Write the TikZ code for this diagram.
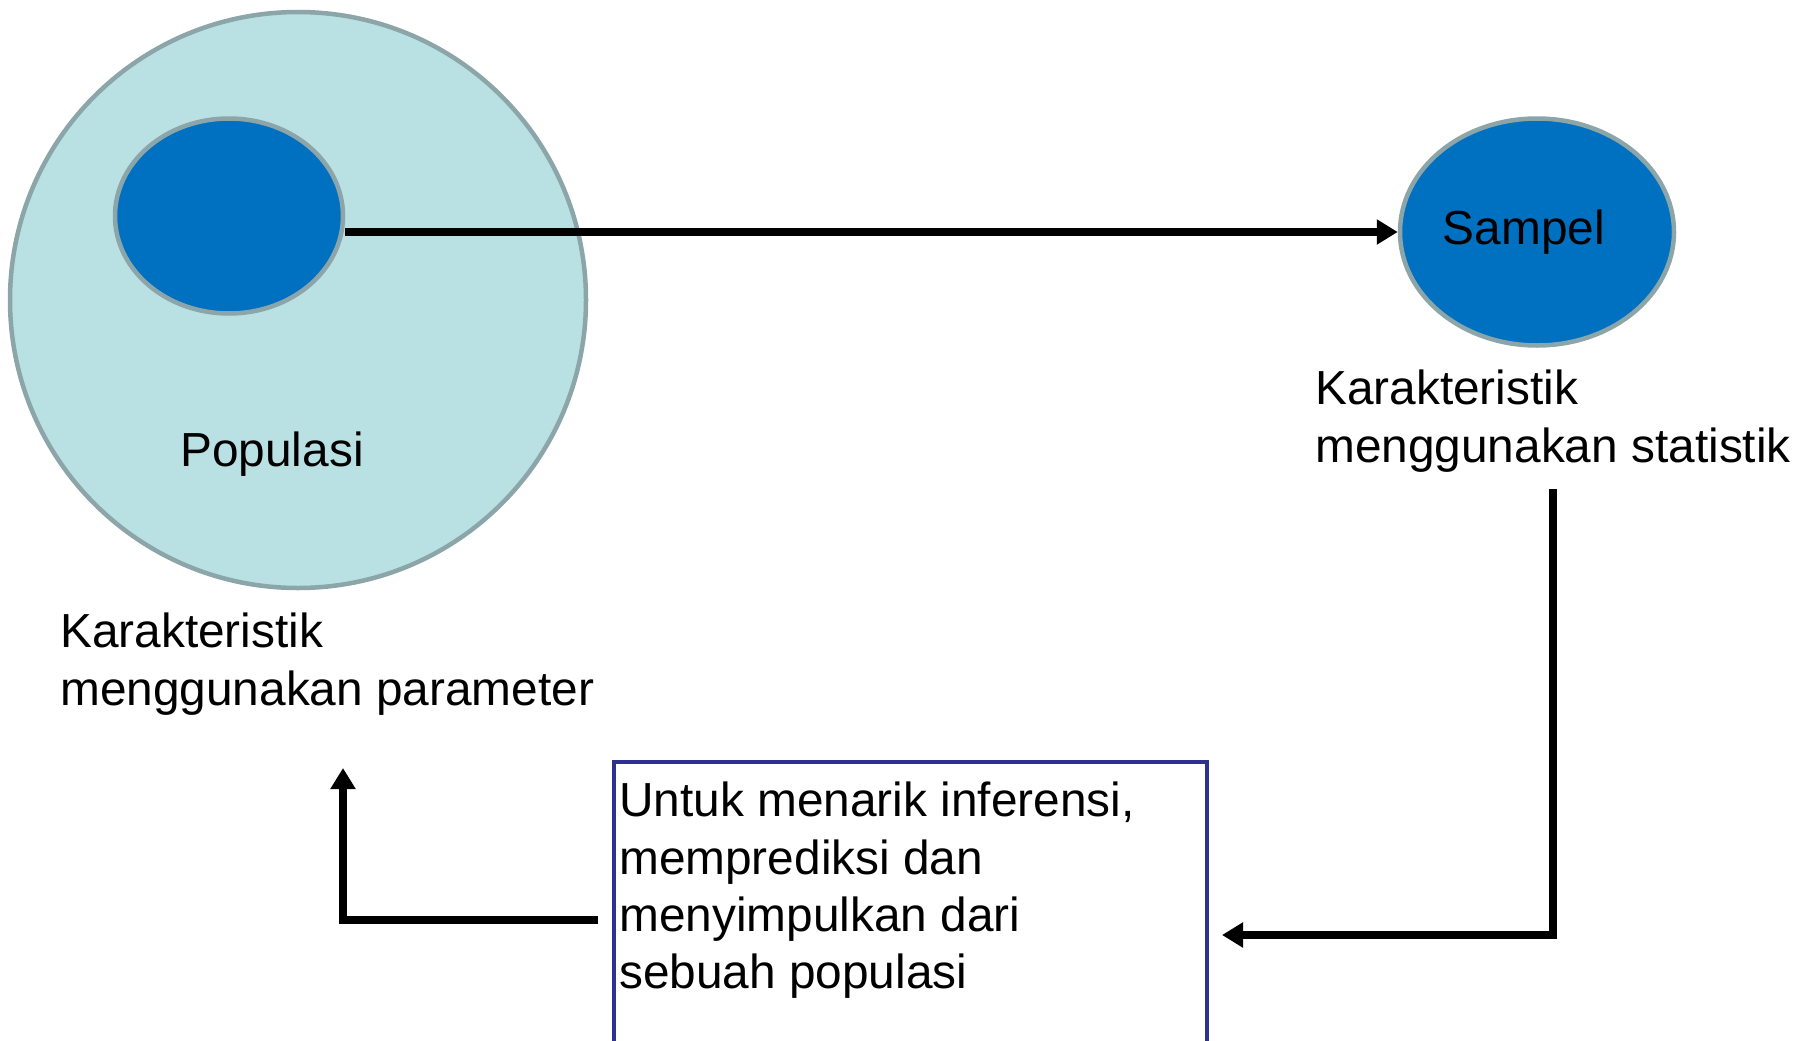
\documentclass[tikz,border=0pt]{standalone}
\usepackage{fontspec}
\setmainfont{Liberation Sans}
\usetikzlibrary{arrows.meta,calc,shapes.geometric}
\definecolor{popfill}{RGB}{185,224,227}
\definecolor{popedge}{RGB}{139,165,168}
\definecolor{sampblue}{RGB}{0,112,192}
\definecolor{boxedge}{RGB}{46,49,146}
\begin{document}
\begin{tikzpicture}[x=1pt,y=-1pt,
  lbl/.style={font=\fontsize{47.8}{57.3}\selectfont, inner sep=0pt, align=left},
  conn/.style={line width=7.5pt, -{Triangle[length=21pt,width=24pt]}},
  blob/.style={draw=popedge, line width=4.5pt, fill=sampblue, ellipse, inner sep=0pt},
]
\useasboundingbox (0,0) rectangle (1804,1041);
\node[draw=popedge, line width=4.5pt, fill=popfill, circle, minimum size=576pt, inner sep=0pt] (pop) at (298,300) {};
\node[blob, minimum width=228pt, minimum height=195pt] (inner) at (229,216) {};
\node[blob, minimum width=274pt, minimum height=227pt, font=\fontsize{47.8}{57.3}\selectfont] (sampel) at (1537,232) {Sampel\hspace*{26pt}};
\node[lbl, anchor=base] (poptext) at (272,466) {Populasi};
\node[lbl, anchor=north west] (paramlbl) at (60,613) {Karakteristik\\menggunakan parameter};
\node[lbl, anchor=north west] (statlbl) at (1315,370) {Karakteristik\\menggunakan statistik};
\node[draw=boxedge, line width=4pt, anchor=north west, minimum width=593pt, minimum height=300pt, inner sep=0pt] (box) at (612,760) {};
\node[lbl, anchor=north west] (boxtext) at (619,782) {Untuk menarik inferensi,\\memprediksi dan\\menyimpulkan dari\\sebuah populasi};
\draw[conn] (inner.east |- sampel.west) -- (sampel.west);
\coordinate (rstart) at (1553,489);
\coordinate (rend) at (1222,935);
\draw[conn] (rstart) |- (rend);
\coordinate (lstart) at (598,920);
\coordinate (lend) at (343,768);
\draw[conn] (lstart) -| (lend);
\end{tikzpicture}
\end{document}
